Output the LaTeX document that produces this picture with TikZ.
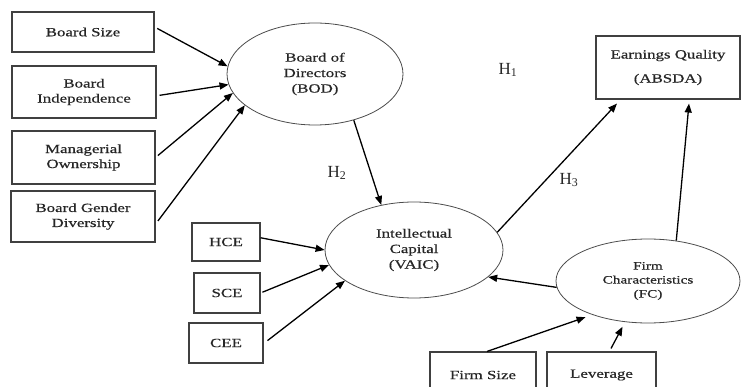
\documentclass[tikz,border=0pt]{standalone}
\usepackage{fontspec}
\setmainfont{Liberation Serif}
\newfontfamily\widefont[FakeStretch=1.35,FakeBold=0.6]{Liberation Serif}
\usetikzlibrary{arrows.meta,calc,shapes.geometric}
\begin{document}
\begin{tikzpicture}[x=1pt,y=-1pt,
  box/.style={draw=black!75, line width=1.1pt, rectangle, inner sep=0pt, align=center,
    font=\widefont\fontsize{12.5}{15}\selectfont, text=black!85},
  oval/.style={draw=black!70, line width=0.8pt, ellipse, inner sep=0pt, align=center,
    font=\widefont\fontsize{12.5}{15.5}\selectfont, text=black!85},
  arr/.style={-{Triangle[length=9pt,width=7pt]}, line width=1.3pt, black},
  hlab/.style={font=\fontsize{17}{20}\selectfont, text=black!85}]
\useasboundingbox (0,0) rectangle (741,387);
\clip (0,0) rectangle (741,387);

% left boxes
\node[box, minimum width=142pt, minimum height=40pt] (bs) at (83,32) {Board Size};
\node[box, minimum width=144pt, minimum height=52pt] (bi) at (84,92) {Board\\Independence};
\node[box, minimum width=143pt, minimum height=53pt] (mo) at (83.5,157.5) {Managerial\\Ownership};
\node[box, minimum width=144pt, minimum height=51pt] (bgd) at (83,216.5) {Board Gender\\Diversity};

% capital boxes
\node[box, minimum width=68pt, minimum height=38pt] (hce) at (226,242) {HCE};
\node[box, minimum width=66pt, minimum height=40pt] (sce) at (227,293) {SCE};
\node[box, minimum width=74pt, minimum height=40pt] (cee) at (226,343) {CEE};

% earnings quality
\node[box, minimum width=144pt, minimum height=63pt] (eq) at (668,67.5) {Earnings Quality\\[9pt](ABSDA)};

% bottom boxes
\node[box, minimum width=106pt, minimum height=46pt] (fs) at (483,375) {Firm Size};
\node[box, minimum width=109pt, minimum height=46pt] (lev) at (601.5,375) {Leverage};

% ellipses
\node[oval, minimum width=176pt, minimum height=102pt] (bod) at (315,74) {Board of\\Directors\\(BOD)};
\node[oval, minimum width=178pt, minimum height=96pt] (vaic) at (414,250) {Intellectual\\Capital\\(VAIC)};
\node[oval, minimum width=184pt, minimum height=84pt, font=\widefont\fontsize{11.3}{14}\selectfont] (fc) at (648,281) {Firm\\Characteristics\\(FC)};

% hypothesis labels
\node[hlab] (h1) at (508,70) {H\textsubscript{1}};
\node[hlab] (h2) at (337,173) {H\textsubscript{2}};
\node[hlab] (h3) at (569,180) {H\textsubscript{3}};

% arrows into BOD
\draw[arr, shorten <=3pt] (bs.4) -- (bod.175);
\draw[arr, shorten <=3pt] (bi.-3) -- (bod.187);
\draw[arr, shorten <=3pt] (mo.east) -- (bod.193);
\draw[arr, shorten <=4pt] (bgd.-6) -- (bod.204);

% BOD to VAIC
\draw[arr] (bod.-50) -- (vaic.126);

% capital arrows
\draw[arr] (hce.7) -- (vaic.180);
\draw[arr, shorten <=2pt] (sce.east) -- (vaic.190);
\draw[arr, shorten <=5pt] (cee.-1) -- (vaic.204);

% to earnings quality
\draw[arr] (vaic.12) -- ($(eq.south)+(-51,4)$);
\draw[arr] (fc.55) -- ($(eq.south)+(21,4)$);

% FC to VAIC
\draw[arr] (fc.184) -- (vaic.-20);

% into FC
\draw[arr] ($(fs.north)+(4,0)$) -- ($(fc.210)+(-5,3)$);
\draw[arr] ($(lev.north)+(9.5,-3)$) -- ($(fc.238)+(0,5)$);
\end{tikzpicture}
\end{document}
